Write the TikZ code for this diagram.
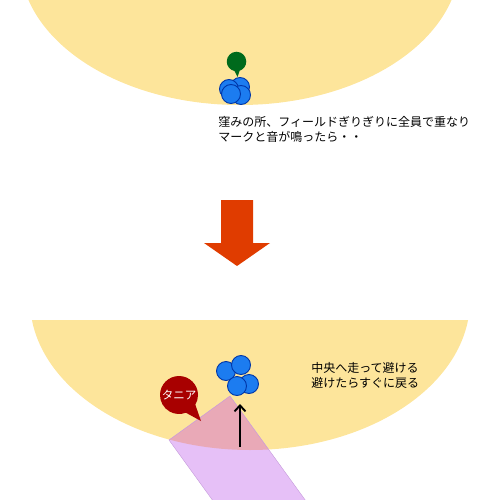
\documentclass[tikz,border=0pt]{standalone}
\usepackage{fontspec}
\newfontfamily\jafont{Noto Sans CJK JP}
\usetikzlibrary{arrows.meta, positioning, calc, shapes.callouts}

\definecolor{field}{HTML}{FDE59B}
\definecolor{playerblue}{HTML}{1C7CF0}
\definecolor{playeredge}{HTML}{0036A8}
\definecolor{markgreen}{HTML}{006A1C}
\definecolor{bubblered}{HTML}{A80000}
\definecolor{turnorange}{HTML}{E03C00}
\definecolor{zonefill}{HTML}{E6C0F7}
\definecolor{zonemix}{HTML}{E9A9B7}
\definecolor{zoneedge}{HTML}{C49ADA}

\begin{document}
\begin{tikzpicture}[x=1pt,y=-1pt,>={Straight Barb[length=6pt,width=11pt]},semithick]
		\tikzstyle{player}=[circle,fill=playerblue,draw=playeredge,line width=0.9pt,minimum size=19pt,inner sep=0pt]
		\tikzstyle{note}=[anchor=west,align=left,inner sep=0pt,text=black,font=\jafont\fontsize{12}{15}\selectfont]
		
		\useasboundingbox (0,0) rectangle (500,500);
		\clip (0,0) rectangle (500,500);
		
		% upper field
		\fill[field] (240,-40) ellipse [x radius=220, y radius=145];
		\node[ellipse callout,fill=markgreen,minimum width=19.5pt,minimum height=19.5pt,inner sep=0pt,
			callout absolute pointer={(237.5,77)},callout pointer arc=30] (mark) at (236.5,61.5) {};
		\node[player] (a1) at (240,87) {};
		\node[player] (a2) at (229,89) {};
		\node[player] (a3) at (241,95) {};
		\node[player] (a4) at (231,94) {};
		\node[note] (hint1) at (218,129) {窪みの所、フィールドぎりぎりに全員で重なり\\マークと音が鳴ったら・・};
		
		% turn arrow
		\fill[turnorange] (221,200) -- (253,200) -- (253,243) -- (270,243) -- (237,266) -- (204,243) -- (221,243) -- cycle;
		
		% lower field
		\begin{scope}
			\clip (0,320) rectangle (500,500);
			\fill[field] (250,300) ellipse [x radius=220, y radius=150];
		\end{scope}
		\coordinate (zl) at (169,440);
		\coordinate (zt) at (230,396);
		\coordinate (zt2) at ($(zt)+(94,130)$);
		\coordinate (zl2) at ($(zl)+(94,130)$);
		\fill[zonefill] (zl) -- (zt) -- (zt2) -- (zl2) -- cycle;
		\begin{scope}
			\clip (0,320) rectangle (500,500);
			\clip (250,300) ellipse [x radius=220, y radius=150];
			\fill[zonemix] (zl) -- (zt) -- (zt2) -- (zl2) -- cycle;
		\end{scope}
		\draw[zoneedge,thin] (zl) -- (zt) -- (zt2) -- (zl2) -- cycle;
		
		\node[player] (b1) at (226,371) {};
		\node[player] (b2) at (241,365) {};
		\node[player] (b3) at (249,384) {};
		\node[player] (b4) at (237,386) {};
		
		\node[ellipse callout,fill=bubblered,minimum width=38pt,minimum height=38pt,inner sep=0pt,
			callout absolute pointer={(201,421)},callout pointer arc=38] (tania) at (179,395) {};
		\node[text=white,inner sep=0pt,font=\jafont\fontsize{11.5}{11.5}\selectfont] (tanialabel) at (tania.center) {タニア};
		
		\coordinate (runfrom) at (240,447);
		\coordinate (runto) at (240,404);
		\draw[->,line width=1.9pt] (runfrom) -- (runto);
		
		\node[note] (hint2) at (311,375.5) {中央へ走って避ける\\避けたらすぐに戻る};
	\end{tikzpicture}
\end{document}
